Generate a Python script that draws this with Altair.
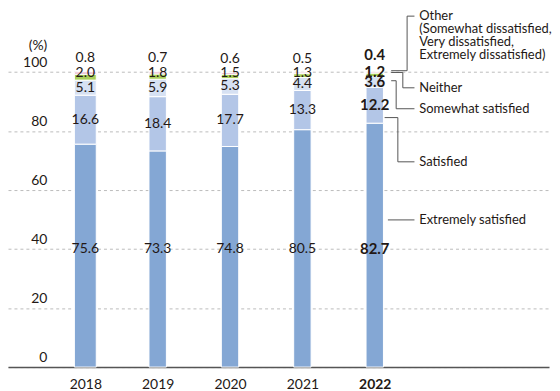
import altair as alt
import pandas as pd

# ---------------- data ----------------
years = [2018, 2019, 2020, 2021, 2022]
categories = ["Extremely satisfied", "Satisfied", "Somewhat satisfied", "Neither", "Other"]
extremely = [75.6, 73.3, 74.8, 80.5, 82.7]
satisfied = [16.6, 18.4, 17.7, 13.3, 12.2]
somewhat = [5.1, 5.9, 5.3, 4.4, 3.6]
neither = [2.0, 1.8, 1.5, 1.3, 1.2]
other = [0.8, 0.7, 0.6, 0.5, 0.4]
y_ticks = [0, 20, 40, 60, 80, 100]
highlight_year = 2022
annotation_labels = [
    "Other\n(Somewhat dissatisfied,\nVery dissatisfied,\nExtremely dissatisfied)",
    "Neither",
    "Somewhat satisfied",
    "Satisfied",
    "Extremely satisfied",
]

# ---------------- styles ----------------
colors = ["#84a7d4", "#b3c6e7", "#d6e1f3", "#a9cf5a", "#e8b6cd"]
font = "Lato"
text_color = "#231815"
line_color = "#555555"

series = [extremely, satisfied, somewhat, neither, other]
rows = []
for i, yr in enumerate(years):
    cum = 0.0
    for j, cat in enumerate(categories):
        v = series[j][i]
        rows.append(dict(year=yr, category=cat, order=j, value=v, y0=cum, y1=cum + v,
                         mid=cum + v / 2, label=f"{v:.1f}", bold=(yr == highlight_year)))
        cum += v
df = pd.DataFrame(rows)
# label anchor: the big segment's labels sit on one row (40), the mid segments at their middle,
# the two thin top segments at the bar top
df["label_y"] = df["mid"]
df.loc[df.order == 0, "label_y"] = 40
df.loc[df.order >= 3, "label_y"] = df.loc[df.order >= 3, "y1"]

W, H = 544, 360
xscale = alt.Scale(domain=[2017.0, 2024.34], nice=False, zero=False)
yscale = alt.Scale(domain=[0, 121.4], nice=False, zero=False)
pxscale = alt.Scale(domain=[0, W], nice=False, zero=False)

xaxis = alt.Axis(
    values=years, format="d", title=None, grid=False, ticks=False,
    domainColor=line_color, domainWidth=1.5, labelPadding=11, labelFlush=False,
    labelFontSize=14, labelFont=font, labelColor=text_color, labelOverlap=False,
    labelFontWeight={"expr": f"datum.value == {highlight_year} ? 'bold' : 'normal'"})
yaxis = alt.Axis(
    values=y_ticks, title="(%)", titleAngle=0, titleAlign="right", titleX=39, titleY=37,
    titleBaseline="middle", titleFont=font, titleFontSize=14, titleFontWeight="normal",
    titleColor=text_color, domain=False, ticks=False, tickSize=0, labelPadding=-39,
    labelOffset=-9.5, labelBaseline="middle", labelFlush=False, labelOverlap=False,
    labelFontSize=14, labelFont=font, labelColor=text_color,
    grid=True, gridDash=[3, 3], gridColor="#bbbbbb", gridWidth=1)

bars = alt.Chart(df).mark_bar(stroke="white", strokeWidth=1).encode(
    x=alt.X("year:Q", scale=xscale, axis=xaxis),
    y=alt.Y("y0:Q", scale=yscale, axis=yaxis),
    y2="y1:Q",
    color=alt.Color("category:N", scale=alt.Scale(domain=categories, range=colors), legend=None),
    order=alt.Order("order:Q"),
    size=alt.condition("datum.year == 2018", alt.value(22), alt.value(17.5)),
)

texts = []
for bold in (False, True):
    for cats, dy in (((0, 1, 2), 0), ((3,), -1), ((4,), -17 if bold else -13.5)):
        sub = df[(df.bold == bold) & (df.order.isin(cats))]
        texts.append(alt.Chart(sub).mark_text(
            dy=dy, font=font, fontSize=15 if bold else 14,
            fontWeight="bold" if bold else "normal", color=text_color, baseline="middle"
        ).encode(
            x=alt.X("year:Q", scale=xscale, axis=xaxis),
            y=alt.Y("label_y:Q", scale=yscale, axis=yaxis),
            text="label:N",
        ))

main = alt.layer(bars, *texts)

# ---------------- leader lines (annotation layout) ----------------
label_x = 413.5
tick_end = 408.7
lab_y = [119.0, 94.7, 87.6, 69.6, 49.9]      # label rows
anchor_y = [100.5, 99.9, 97.1, 84.6, 49.9]   # where lines meet the 2022 bar
start_x = [385.3, 385.3, 385.3, 378.7, 382.0]
elbow_x = [401.3, 397.0, 390.3, 392.0, 382.0]
seg = []
for k in range(5):
    seg.append(dict(px=start_x[k], px2=elbow_x[k], ya=anchor_y[k], yb=anchor_y[k]))
    seg.append(dict(px=elbow_x[k], px2=elbow_x[k], ya=anchor_y[k], yb=lab_y[k]))
    seg.append(dict(px=elbow_x[k], px2=tick_end, ya=lab_y[k], yb=lab_y[k]))
seg_df = pd.DataFrame(seg)

leaders = alt.Chart(seg_df).mark_rule(color=line_color, strokeWidth=1).encode(
    x=alt.X("px:Q", scale=pxscale, axis=None),
    x2="px2:Q",
    y=alt.Y("ya:Q", scale=yscale, axis=yaxis),
    y2="yb:Q",
)

ann_df = pd.DataFrame(dict(text=annotation_labels[1:], px=[label_x] * 4, y=lab_y[1:]))
ann = alt.Chart(ann_df).mark_text(
    align="left", baseline="middle", font=font, fontSize=13, color=text_color
).encode(
    x=alt.X("px:Q", scale=pxscale, axis=None),
    y=alt.Y("y:Q", scale=yscale, axis=yaxis),
    text="text:N",
)
ann_top = alt.Chart(pd.DataFrame(dict(text=[annotation_labels[0]], px=[label_x], y=[120.9]))).mark_text(
    align="left", baseline="top", font=font, fontSize=13, color=text_color,
    lineBreak="\n", lineHeight=12.8
).encode(
    x=alt.X("px:Q", scale=pxscale, axis=None),
    y=alt.Y("y:Q", scale=yscale, axis=yaxis),
    text="text:N",
)

side = alt.layer(leaders, ann, ann_top)

chart = alt.layer(main, side).resolve_scale(x="independent").properties(
    width=W, height=H, padding=0
).configure_view(stroke=None)

chart.save("out.html", embed_options={"renderer": "svg", "actions": False})
